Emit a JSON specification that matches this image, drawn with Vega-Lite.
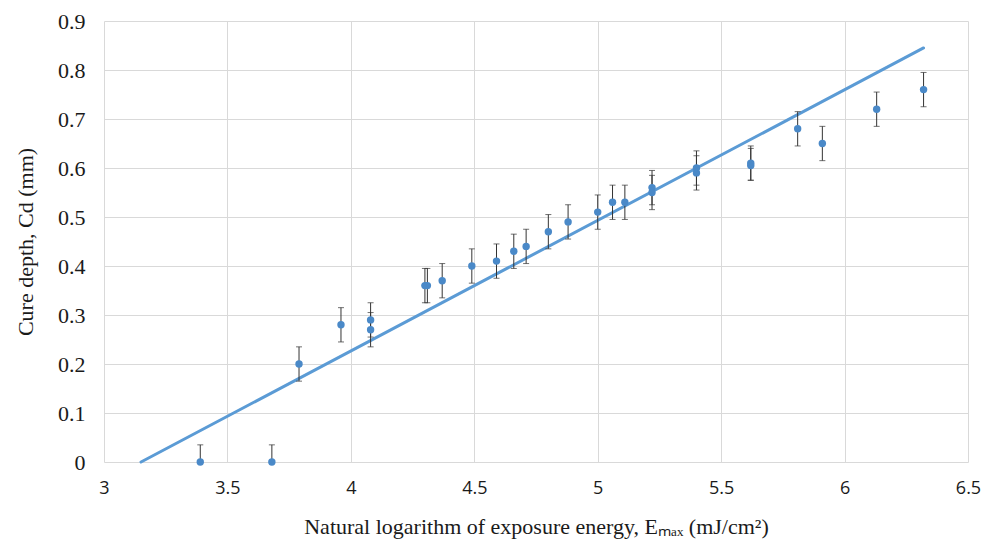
{
  "$schema": "https://vega.github.io/schema/vega-lite/v6.json",
  "width": 864,
  "height": 441,
  "autosize": "none",
  "padding": {"left": 104, "top": 21, "right": 18, "bottom": 92},
  "background": "white",
  "config": {"view": {"stroke": null}},
  "datasets": {
    "pts": [
      {"x": 3.39, "y": 0.0, "lo": 0.0, "hi": 0.035},
      {"x": 3.68, "y": 0.0, "lo": 0.0, "hi": 0.035},
      {"x": 3.79, "y": 0.2, "lo": 0.165, "hi": 0.235},
      {"x": 3.96, "y": 0.28, "lo": 0.245, "hi": 0.315},
      {"x": 4.08, "y": 0.29, "lo": 0.255, "hi": 0.325},
      {"x": 4.08, "y": 0.27, "lo": 0.235, "hi": 0.305},
      {"x": 4.3, "y": 0.36, "lo": 0.325, "hi": 0.395},
      {"x": 4.31, "y": 0.36, "lo": 0.325, "hi": 0.395},
      {"x": 4.37, "y": 0.37, "lo": 0.335, "hi": 0.405},
      {"x": 4.49, "y": 0.4, "lo": 0.365, "hi": 0.435},
      {"x": 4.59, "y": 0.41, "lo": 0.375, "hi": 0.445},
      {"x": 4.66, "y": 0.43, "lo": 0.395, "hi": 0.465},
      {"x": 4.71, "y": 0.44, "lo": 0.405, "hi": 0.475},
      {"x": 4.8, "y": 0.47, "lo": 0.435, "hi": 0.505},
      {"x": 4.88, "y": 0.49, "lo": 0.455, "hi": 0.525},
      {"x": 5.0, "y": 0.51, "lo": 0.475, "hi": 0.545},
      {"x": 5.06, "y": 0.53, "lo": 0.495, "hi": 0.565},
      {"x": 5.11, "y": 0.53, "lo": 0.495, "hi": 0.565},
      {"x": 5.22, "y": 0.56, "lo": 0.525, "hi": 0.595},
      {"x": 5.22, "y": 0.55, "lo": 0.515, "hi": 0.585},
      {"x": 5.4, "y": 0.59, "lo": 0.555, "hi": 0.625},
      {"x": 5.4, "y": 0.6, "lo": 0.565, "hi": 0.635},
      {"x": 5.62, "y": 0.61, "lo": 0.575, "hi": 0.645},
      {"x": 5.62, "y": 0.605, "lo": 0.575, "hi": 0.64},
      {"x": 5.81, "y": 0.68, "lo": 0.645, "hi": 0.715},
      {"x": 5.91, "y": 0.65, "lo": 0.615, "hi": 0.685},
      {"x": 6.13, "y": 0.72, "lo": 0.685, "hi": 0.755},
      {"x": 6.32, "y": 0.76, "lo": 0.725, "hi": 0.795}
    ],
    "fit": [
      {"x": 3.15, "y": 0.0},
      {"x": 6.32, "y": 0.845}
    ]
  },
  "encoding": {
    "x": {
      "type": "quantitative",
      "scale": {"domain": [3, 6.5], "nice": false, "zero": false},
      "axis": {
        "title": "Natural logarithm of exposure energy, Eₘₐₓ (mJ/cm²)",
        "values": [3, 3.5, 4, 4.5, 5, 5.5, 6, 6.5],
        "format": "~g",
        "grid": true, "gridColor": "#d9d9d9", "gridWidth": 1,
        "domain": false, "ticks": false,
        "labelFlush": false, "labelOverlap": false,
        "labelFont": "Open Sans", "labelFontSize": 18, "labelColor": "#1a1a1a",
        "labelPadding": 17,
        "titleFont": "Liberation Serif", "titleFontSize": 22, "titleFontWeight": "normal", "titleColor": "#1a1a1a",
        "titlePadding": 19
      }
    },
    "y": {
      "type": "quantitative",
      "scale": {"domain": [0, 0.9], "nice": false},
      "axis": {
        "title": "Cure depth, Cd (mm)",
        "values": [0, 0.1, 0.2, 0.3, 0.4, 0.5, 0.6, 0.7, 0.8, 0.9],
        "format": "~g",
        "grid": true, "gridColor": "#d9d9d9", "gridWidth": 1,
        "domain": false, "ticks": false,
        "labelFlush": false, "labelOverlap": false,
        "labelFont": "Liberation Serif", "labelFontSize": 22, "labelColor": "#1a1a1a",
        "labelPadding": 19,
        "titleFont": "Liberation Serif", "titleFontSize": 22, "titleFontWeight": "normal", "titleColor": "#1a1a1a",
        "titlePadding": 20
      }
    }
  },
  "layer": [
    {
      "data": {"name": "fit"},
      "mark": {"type": "line", "color": "#5b9bd5", "strokeWidth": 3, "strokeCap": "round"},
      "encoding": {"x": {"field": "x"}, "y": {"field": "y"}}
    },
    {
      "data": {"name": "pts"},
      "mark": {"type": "rule", "color": "#333333", "strokeWidth": 1},
      "encoding": {"x": {"field": "x"}, "y": {"field": "lo"}, "y2": {"field": "hi"}}
    },
    {
      "data": {"name": "pts"},
      "mark": {"type": "tick", "orient": "horizontal", "color": "#333333", "size": 6, "thickness": 1},
      "encoding": {"x": {"field": "x"}, "y": {"field": "hi"}}
    },
    {
      "data": {"name": "pts"},
      "mark": {"type": "tick", "orient": "horizontal", "color": "#333333", "size": 6, "thickness": 1},
      "encoding": {"x": {"field": "x"}, "y": {"field": "lo"}}
    },
    {
      "data": {"name": "pts"},
      "mark": {"type": "point", "filled": true, "color": "#4a89c8", "size": 55, "opacity": 1},
      "encoding": {"x": {"field": "x"}, "y": {"field": "y"}}
    }
  ]
}
